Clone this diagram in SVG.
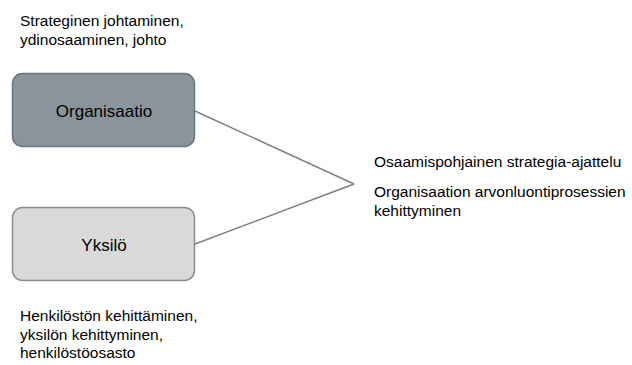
<svg xmlns="http://www.w3.org/2000/svg" width="632" height="365" viewBox="0 0 632 365">
  <style>
    .note { font-family: "Liberation Sans", Arial, sans-serif; font-size: 15.5px; fill: #000; }
    .label { font-family: "Liberation Sans", Arial, sans-serif; font-size: 17px; fill: #000; text-anchor: middle; }
    .box { stroke-width: 1.5; }
    .org { fill: #8a949c; stroke: #6b747c; }
    .ind { fill: #d9d9d9; stroke: #8c8c8c; }
    .link { stroke: #7f7f7f; stroke-width: 1.5; fill: none; }
  </style>
  <rect width="632" height="365" fill="#ffffff"/>

  <g id="connectors">
    <line class="link" x1="195" y1="111" x2="354" y2="184"/>
    <line class="link" x1="195" y1="244" x2="354" y2="184"/>
  </g>

  <g id="organisaatio">
    <rect class="box org" x="12.5" y="73.5" width="182" height="73" rx="10" ry="10"/>
    <text class="label" x="104" y="117">Organisaatio</text>
  </g>

  <g id="yksilo">
    <rect class="box ind" x="12.5" y="207.5" width="182" height="73" rx="10" ry="10"/>
    <text class="label" x="104" y="251">Yksilö</text>
  </g>

  <g id="note-organisaatio">
    <text class="note" x="20" y="26">Strateginen johtaminen,</text>
    <text class="note" x="20" y="45">ydinosaaminen, johto</text>
  </g>

  <g id="note-yksilo">
    <text class="note" x="20" y="321">Henkilöstön kehittäminen,</text>
    <text class="note" x="20" y="340">yksilön kehittyminen,</text>
    <text class="note" x="20" y="358">henkilöstöosasto</text>
  </g>

  <g id="outcome">
    <text class="note" x="374" y="167">Osaamispohjainen strategia-ajattelu</text>
    <text class="note" x="374" y="197">Organisaation arvonluontiprosessien</text>
    <text class="note" x="374" y="216">kehittyminen</text>
  </g>
</svg>
